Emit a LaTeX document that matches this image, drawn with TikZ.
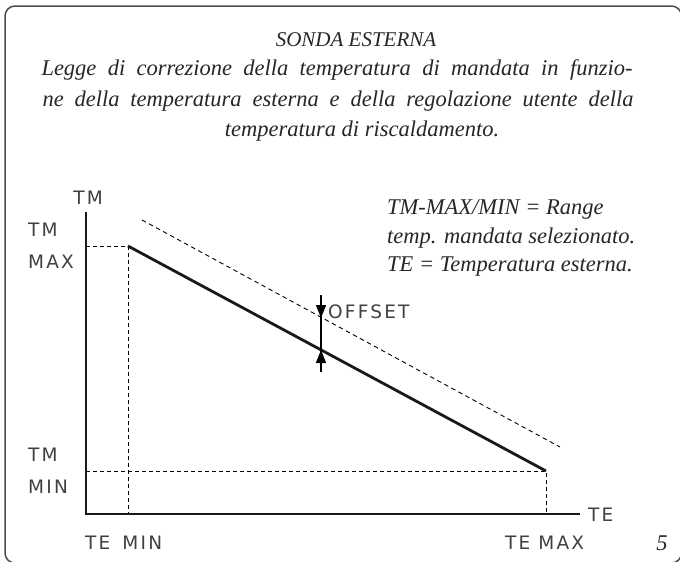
\documentclass[tikz,border=0pt]{standalone}
\usepackage{fontspec}
\setmainfont{Liberation Serif}
\newfontfamily\isofont[LetterSpace=12]{DejaVu Sans}
\usetikzlibrary{arrows.meta}

\tikzset{asse/.style = {line width=2.6pt, color=black!90},
         retta/.style = {line width=2.8pt, color=black!90},
         guida/.style = {line width=1pt, dash pattern=on 4pt off 3pt},
         parallela/.style = {line width=0.9pt, dash pattern=on 4.5pt off 3.5pt},
         etic/.style = {font=\isofont\fontsize{18.5}{18.5}\selectfont, inner sep=0pt, text=black!75},
         nota/.style = {font=\itshape\fontsize{22.5}{29}\selectfont, inner sep=0pt, text=black!85},
         freccia/.style = {-{Triangle[length=13pt,width=10pt]}, line width=1.2pt}
        }

\begin{document}
\begin{tikzpicture}[x=1pt,y=-1pt]
  \useasboundingbox (0,0) rectangle (680,562);
  % cornice
  \draw[line width=1.5pt, rounded corners=10pt, color=black!70] (5,6) rectangle (681.5,563);

  % testo in alto
  \node[nota, font=\itshape\fontsize{21}{29}\selectfont] (titolo) at (356,40) {SONDA ESTERNA};
  \node[nota] (riga1) at (337,70) {\makebox[591pt][s]{Legge di correzione della temperatura di mandata in funzio-}};
  \node[nota] (riga2) at (338,101) {\makebox[591pt][s]{ne della temperatura esterna e della regolazione utente della}};
  \node[nota] (riga3) at (362,131) {temperatura di riscaldamento.};

  % punti del grafico
  \coordinate (O) at (86,514);
  \coordinate (ytop) at (86,212);
  \coordinate (xend) at (580,514);
  \coordinate (pmax) at (128,246);
  \coordinate (pmin) at (546,471);
  \coordinate (ds) at (142,220);
  \coordinate (de) at (560,447);
  \coordinate (otop) at (321,295);
  \coordinate (odash) at (321,318);
  \coordinate (oline) at (321,350);
  \coordinate (obot) at (321,372);

  % assi
  \draw[asse] (ytop) -- (O) -- (xend);
  % linee di riferimento
  \draw[guida] (ytop |- pmax) -- (pmax) -- (pmax |- O);
  \draw[guida] (ytop |- pmin) -- (pmin) -- (pmin |- O);
  % curva di mandata e curva spostata
  \draw[retta] (pmax) -- (pmin);
  \draw[parallela] (ds) -- (de);
  % offset
  \draw[line width=1.2pt] (otop) -- (obot);
  \draw[freccia] (otop) -- (odash);
  \draw[freccia] (obot) -- (oline);

  % etichette
  \node[etic] (tm) at (88,198) {TM};
  \node[etic, anchor=west] (tmmax1) at (28,230) {TM};
  \node[etic, anchor=west] (tmmax2) at (28,262) {MAX};
  \node[etic, anchor=west] (tmmin1) at (28,455) {TM};
  \node[etic, anchor=west] (tmmin2) at (28,487) {MIN};
  \node[etic, anchor=west] (te) at (588,515) {TE};
  \node[etic, anchor=west] (temin) at (85,543) {TE\hspace{12pt}MIN};
  \node[etic, anchor=west] (temax) at (505,543) {TE\hspace{8pt}MAX};
  \node[etic, anchor=west] (offset) at (328,312) {OFFSET};
  \node[nota] (pagina) at (662,543) {5};

  % legenda
  \node[nota, anchor=west] (leg1) at (387,209) {TM-MAX/MIN = Range};
  \node[nota, anchor=west] (leg2) at (387,238) {temp. mandata selezionato.};
  \node[nota, anchor=west] (leg3) at (387,267) {TE = Temperatura esterna.};
\end{tikzpicture}
\end{document}
